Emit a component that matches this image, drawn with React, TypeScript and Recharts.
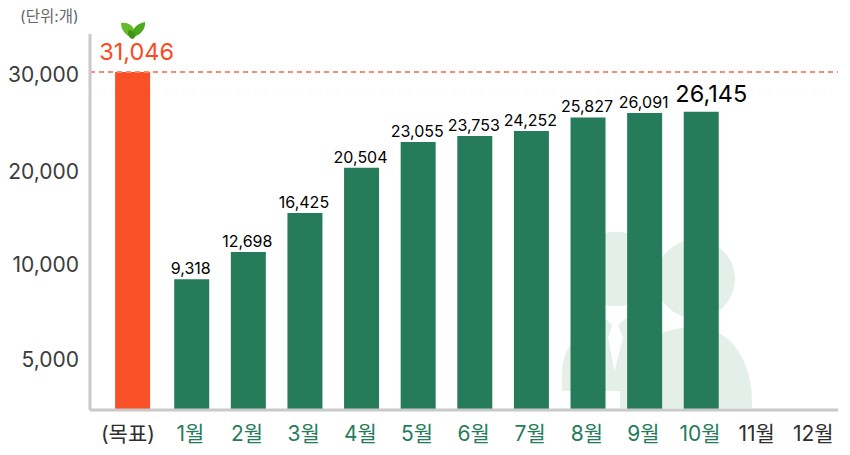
import React from "react";
import { BarChart, Bar, XAxis, YAxis, LabelList, ReferenceLine, Rectangle } from "recharts";

const categories = ["(목표)", "1월", "2월", "3월", "4월", "5월", "6월", "7월", "8월", "9월", "10월", "11월", "12월"];
const values: (number | null)[] = [31046, 9318, 12698, 16425, 20504, 23055, 23753, 24252, 25827, 26091, 26145, null, null];
const yTicks = [5000, 10000, 20000, 30000];
const targetLine = 30000;
const domainTop = 34000;

// The source chart's axis is not linear: value -> share of the plot height.
const axisKnotValues = [0, 5000, 9318, 10000, 12698, 16425, 20000, 20504, 23055, 23753, 24252, 25827, 26091, 26145, 30000, 31046, 34000];
const axisKnotShares = [0, 0.141, 0.348, 0.394, 0.42, 0.524, 0.642, 0.644, 0.713, 0.729, 0.742, 0.778, 0.79, 0.793, 0.899, 0.899, 1];

function makeScale(dom: number[] = [0, domainTop], rng: number[] = [0, 1]): any {
  const s: any = (v: number) => {
    let share = 1;
    for (let i = 1; i < axisKnotValues.length; i++) {
      if (v <= axisKnotValues[i]) {
        const a = axisKnotValues[i - 1], b = axisKnotValues[i];
        share = axisKnotShares[i - 1] + ((v - a) / (b - a)) * (axisKnotShares[i] - axisKnotShares[i - 1]);
        break;
      }
    }
    return rng[0] + share * (rng[1] - rng[0]);
  };
  s.domain = (d?: number[]) => (d ? makeScale(d, rng) : dom);
  s.range = (r?: number[]) => (r ? makeScale(dom, r) : rng);
  s.copy = () => makeScale(dom, rng);
  s.ticks = () => yTicks;
  return s;
}

const data = categories.map((name, i) => ({ name, value: values[i] }));
const FONT = "Inter, 'Noto Sans CJK KR', sans-serif";
const GREEN = "#267c5a";
const ORANGE = "#fa5028";

const XTick = (p: any) => {
  const v = p.payload.value;
  const i = categories.indexOf(v);
  const fill = i >= 1 && i <= 10 ? GREEN : "#2e2e2e";
  return (
    <text x={p.x - (i === 0 ? 7 : 1)} y={p.y + 15} textAnchor="middle" dominantBaseline="central" fontSize={21} fontFamily={FONT} fill={fill}>
      {v}
    </text>
  );
};

const YTick = (p: any) => (
  <text x={79} y={p.y + 2.5} textAnchor="end" dominantBaseline="central" fontSize={21} fontFamily={FONT} fill="#3c3c3c">
    {Number(p.payload.value).toLocaleString("en-US")}
  </text>
);

const BarLabel = (p: any) => {
  const { x, y, width, value, index } = p;
  if (value == null) return null;
  const first = index === 0;
  const latest = index === 10;
  return (
    <text
      x={x + width / 2 + (first ? 1.5 : latest ? 10 : -1)}
      y={y - (first ? 12 : latest ? 9.5 : 5)}
      textAnchor="middle"
      fontFamily={FONT}
      fontSize={first ? 23.5 : latest ? 23.5 : 16}
      fill={first ? "#fa4a22" : "#000"}
    >
      {Number(value).toLocaleString("en-US")}
    </text>
  );
};

const BarShape = (p: any) => (
  <Rectangle x={p.index === 0 ? p.x - 2.5 : p.x} y={p.y} width={p.width} height={p.height} fill={p.index === 0 ? ORANGE : GREEN} />
);

export default function App() {
  return (
    <div style={{ position: "absolute", left: 0, top: 0, width: 850, height: 455, background: "#fff" }}>
      <svg width={850} height={455} style={{ position: "absolute", left: 0, top: 0 }}>
        <line x1={92} x2={832} y1={90} y2={90} stroke="#f9f6f5" strokeDasharray="5 4" />
        <g fill="#e4efea">
          <circle cx={616} cy={269} r={37.5} />
          <path d="M562 391 L562 372 C563 350 572 335 606 319 L627 317 C650 325 668 345 670 380 L670 391 Z" />
          <circle cx={695.5} cy={279} r={39.5} />
          <path d="M620 408 L620 392 C625 350 655 327 695 327 C730 327 752 360 752 402 L752 408 Z" />
        </g>
        <path d="M600 306.5 L630 306.5 L627 317 L618 325 L623 338 L614.5 371 L608 338 L612 325 L606 319 Z" fill="#fff" />
        <g>
          <path d="M121 23 C127 22 133 25 134 30 C135 33 134 35 132 37 C126 36 121 30 121 23 Z" fill="#67b82a" />
          <path d="M145 22 C146 29 140 36 132 37 C131 31 135 24 145 22 Z" fill="#4ea81d" />
          <path d="M132 39 C128 37 127 33 129 30 C131 30 135 33 136 35 C135 37 134 39 132 39 Z" fill="#3d9415" />
        </g>
      </svg>
      <div style={{ position: "absolute", left: 20, top: 4, fontFamily: FONT, fontSize: 15.5, color: "#666" }}>(단위:개)</div>
      <BarChart
        width={850}
        height={455}
        data={data}
        margin={{ top: 34, right: 12, bottom: 15, left: 0 }}
        barSize={35}
        style={{ position: "absolute", left: 0, top: 0 }}
      >
        <XAxis
          dataKey="name"
          interval={0}
          height={30}
          padding={{ left: 16.6, right: -4.6 }}
          tick={<XTick />}
          tickLine={false}
          axisLine={{ stroke: "#c9c9c9", strokeWidth: 3 }}
        />
        <YAxis
          scale={makeScale()}
          type="number"
          domain={[0, domainTop]}
          ticks={yTicks}
          interval={0}
          width={90}
          tickLine={false}
          tick={<YTick />}
          axisLine={{ stroke: "#c9c9c9", strokeWidth: 3 }}
        />
        <ReferenceLine y={targetLine} stroke="#f98b70" strokeWidth={2} strokeDasharray="5 4" />
        <Bar dataKey="value" isAnimationActive={false} fill={GREEN} shape={<BarShape />}>
          <LabelList dataKey="value" content={<BarLabel />} />
        </Bar>
      </BarChart>
    </div>
  );
}
